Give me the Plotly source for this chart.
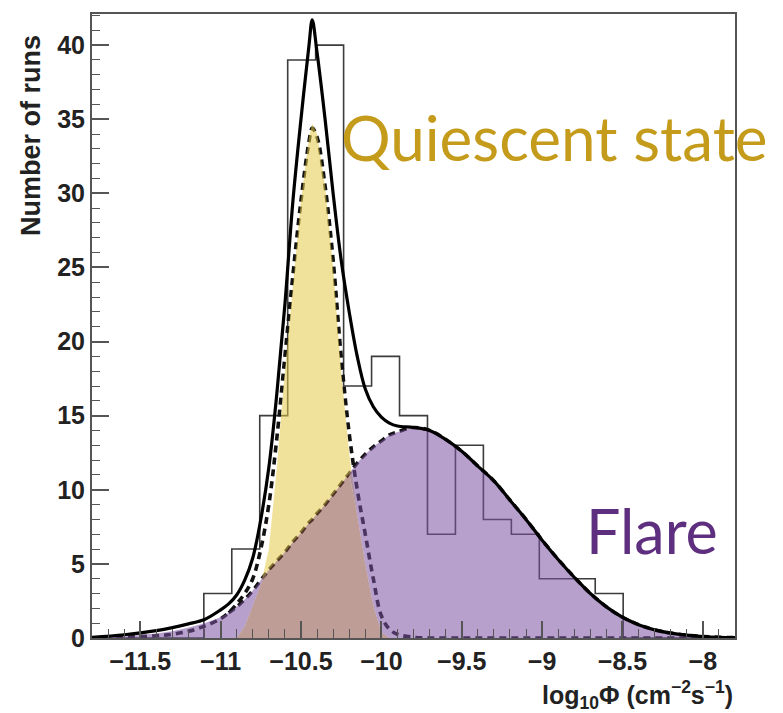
import numpy as np
import plotly.graph_objects as go

# ---------------- data ----------------
# histogram: 23 bins between -11.8 and -7.8
hist_lo, hist_hi, n_bins = -11.8, -7.8, 23
counts = [0, 0, 0, 0, 3, 6, 15, 39, 40, 17, 19, 15, 7, 13, 8, 7, 4, 4, 3, 0, 0, 0, 0]

# sampling positions of the fitted curves
fit_x = [-11.8, -11.6, -11.4, -11.3, -11.2, -11.1, -11.0, -10.95, -10.9, -10.85,
         -10.8, -10.75, -10.7, -10.65, -10.6, -10.55, -10.5, -10.45, -10.43, -10.4,
         -10.35, -10.3, -10.25, -10.2, -10.15, -10.1, -10.05, -10.0, -9.95, -9.9,
         -9.8, -9.7, -9.6, -9.5, -9.4, -9.3, -9.2, -9.1, -9.0, -8.9,
         -8.8, -8.7, -8.6, -8.5, -8.4, -8.3, -8.2, -8.1, -8.0, -7.9, -7.8]

# total fit (solid black)
total_fit = [0.05, 0.22, 0.5, 0.7, 0.95, 1.25, 1.9, 2.3, 2.9, 3.9,
             5.4, 8.0, 11.5, 16.5, 22.5, 29.5, 35.0, 40.0, 41.7, 39.5,
             35.0, 30.0, 25.5, 22.0, 19.0, 16.8, 15.6, 14.9, 14.5, 14.3,
             14.2, 14.0, 13.4, 12.6, 11.6, 10.6, 9.3, 8.0, 6.6, 5.3,
             4.1, 3.0, 2.1, 1.4, 0.9, 0.55, 0.33, 0.19, 0.1, 0.05, 0.03]

# quiescent component (dashed)
quiescent_fit = [0.0, 0.05, 0.15, 0.25, 0.45, 0.8, 1.3, 1.7, 2.3, 3.0,
                 4.0, 6.0, 9.0, 13.5, 19.0, 24.5, 29.5, 33.5, 34.4, 33.8,
                 30.5, 25.5, 19.0, 13.8, 10.0, 7.0, 4.0, 1.5, 0.6, 0.25,
                 0.05, 0, 0, 0, 0, 0, 0, 0, 0, 0,
                 0, 0, 0, 0, 0, 0, 0, 0, 0, 0, 0]

# flare component (dashed), also the top of the purple shading
flare_fit = [0.02, 0.1, 0.3, 0.45, 0.7, 1.0, 1.4, 1.7, 2.1, 2.6,
             3.2, 3.9, 4.6, 5.2, 5.8, 6.5, 7.1, 7.8, 8.0, 8.4,
             9.0, 9.7, 10.4, 11.1, 11.8, 12.4, 12.9, 13.3, 13.7, 13.9,
             14.2, 14.0, 13.4, 12.6, 11.6, 10.6, 9.3, 8.0, 6.6, 5.3,
             4.1, 3.0, 2.1, 1.4, 0.9, 0.55, 0.33, 0.19, 0.1, 0.05, 0.03]

# top of the yellow (quiescent) shading
quiescent_shade = [0, 0, 0, 0, 0, 0, 0, 0, 0, 0.8,
                   2.2, 3.6, 6.0, 11.5, 18.0, 24.0, 29.5, 33.8, 34.7, 34.0,
                   30.5, 25.0, 18.0, 12.5, 8.3, 5.0, 2.2, 0.4, 0, 0,
                   0, 0, 0, 0, 0, 0, 0, 0, 0, 0,
                   0, 0, 0, 0, 0, 0, 0, 0, 0, 0, 0]

x_tick_vals = [-11.5, -11, -10.5, -10, -9.5, -9, -8.5, -8]
x_tick_text = ["\u221211.5", "\u221211", "\u221210.5", "\u221210", "\u22129.5", "\u22129", "\u22128.5", "\u22128"]
y_tick_vals = [0, 5, 10, 15, 20, 25, 30, 35, 40]

# ---------------- figure ----------------
edges = np.linspace(hist_lo, hist_hi, n_bins + 1)
step_x = [edges[0]] + list(edges[:-1]) + [edges[-1]]
step_y = [0] + counts + [0]

overlap = np.minimum(np.array(quiescent_shade), np.array(flare_fit))

fig = go.Figure()

# histogram outline
fig.add_trace(go.Scatter(x=step_x, y=step_y, mode="lines", line_shape="hv",
                         line=dict(color="#3c3c3c", width=1.6), hoverinfo="skip"))
# component curves (dashed)
fig.add_trace(go.Scatter(x=fit_x, y=quiescent_fit, mode="lines", line_shape="spline",
                         line=dict(color="#111111", width=3.6, dash="7px,5px"), hoverinfo="skip"))
i0 = fit_x.index(-10.95)
fig.add_trace(go.Scatter(x=fit_x[i0:], y=flare_fit[i0:], mode="lines", line_shape="spline",
                         line=dict(color="#111111", width=3.6, dash="7px,5px"), hoverinfo="skip"))

# shadings (translucent, drawn over histogram and dashed curves)
a = 0.55
fig.add_trace(go.Scatter(x=fit_x, y=overlap, mode="lines", line=dict(width=0),
                         fill="tozeroy", fillcolor=f"rgba(137,77,64,{a})", hoverinfo="skip"))
fig.add_trace(go.Scatter(x=fit_x, y=quiescent_shade, mode="lines", line=dict(width=0),
                         fill="tonexty", fillcolor=f"rgba(228,202,73,{a})", hoverinfo="skip"))
fig.add_trace(go.Scatter(x=fit_x, y=overlap, mode="lines", line=dict(width=0),
                         hoverinfo="skip"))
fig.add_trace(go.Scatter(x=fit_x, y=flare_fit, mode="lines", line=dict(width=0),
                         fill="tonexty", fillcolor=f"rgba(126,82,162,{a})", hoverinfo="skip"))

# total fit (solid)
fig.add_trace(go.Scatter(x=fit_x, y=total_fit, mode="lines", line_shape="spline",
                         line=dict(color="#000000", width=3.2), hoverinfo="skip"))

tick_font = dict(family="Liberation Sans", size=25, color="#222222", weight="bold")

fig.update_layout(
    width=783, height=713,
    margin=dict(l=92, r=48, t=14, b=75),
    paper_bgcolor="white", plot_bgcolor="white",
    showlegend=False,
    xaxis=dict(range=[-11.8, -7.8], tickmode="array", tickvals=x_tick_vals, ticktext=x_tick_text,
               ticks="inside", ticklen=17, tickwidth=1.5, tickcolor="#555555",
               minor=dict(ticks="inside", ticklen=9, tickwidth=1.2, tickcolor="#555555", dtick=0.1, tick0=-11.5),
               showline=True, linecolor="#555555", linewidth=2, mirror=True,
               showgrid=False, zeroline=False, tickfont=tick_font),
    yaxis=dict(range=[0, 42.1], tickmode="array", tickvals=y_tick_vals,
               ticks="inside", ticklen=17, tickwidth=1.5, tickcolor="#555555",
               minor=dict(ticks="inside", ticklen=8, tickwidth=1.2, tickcolor="#555555", dtick=1, tick0=0),
               showline=True, linecolor="#555555", linewidth=2, mirror=True,
               showgrid=False, zeroline=False, tickfont=tick_font),
)

fig.add_annotation(text="Number of runs", xref="paper", yref="paper", x=-0.095, y=0.806,
                   textangle=-90, showarrow=False, xanchor="center", yanchor="middle",
                   font=dict(family="Liberation Sans", size=27, color="#222222", weight="bold"))
fig.add_annotation(text="log<sub>10</sub>\u03a6 (cm<sup>\u22122</sup>s<sup>\u22121</sup>)",
                   xref="paper", yref="paper", x=1.0, y=-0.092, showarrow=False,
                   xanchor="right", yanchor="middle",
                   font=dict(family="Liberation Sans", size=25, color="#222222", weight="bold"))
fig.add_annotation(text="Quiescent state", xref="paper", yref="paper", x=0.384, y=0.803,
                   showarrow=False, xanchor="left", yanchor="middle",
                   font=dict(family="Lato", size=62, color="#C59B1C"))
fig.add_annotation(text="Flare", xref="paper", yref="paper", x=0.765, y=0.173,
                   showarrow=False, xanchor="left", yanchor="middle",
                   font=dict(family="Lato", size=61, color="#5E2F7F"))

fig.write_html("out.html")
